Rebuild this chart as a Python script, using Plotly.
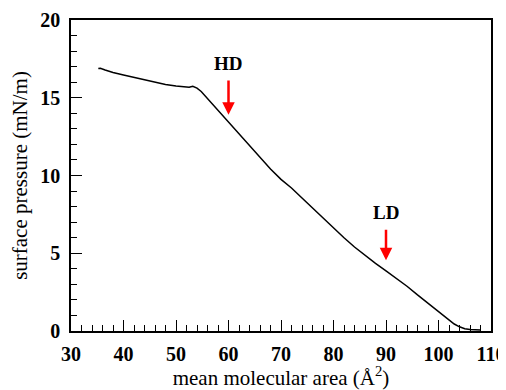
import plotly.graph_objects as go

area = [35.2, 35.6, 36.5, 38, 40, 42, 44, 46, 48, 50, 51.5, 52.5, 53.2, 54, 54.8,
        55.6, 56.5, 58, 60, 62, 64, 66, 68, 70, 72, 74, 76, 78, 80, 82, 84, 86,
        88, 90, 92, 94, 96, 98, 100, 101, 102, 103, 104, 105, 106, 107, 108]
pressure = [16.88, 16.9, 16.78, 16.62, 16.46, 16.3, 16.15, 15.98, 15.85, 15.75,
            15.72, 15.68, 15.74, 15.62, 15.4, 15.1, 14.75, 14.2, 13.45, 12.7,
            11.95, 11.15, 10.42, 9.75, 9.2, 8.55, 7.9, 7.25, 6.62, 6.0, 5.4, 4.85,
            4.35, 3.87, 3.38, 2.88, 2.32, 1.78, 1.25, 0.98, 0.7, 0.45, 0.27, 0.15,
            0.09, 0.07, 0.07]

markers = ["HD", "LD"]
marker_x = [60, 90]
marker_text_y = [17.2, 7.6]
arrow_tip = [13.9, 4.55]

xticks = [30, 40, 50, 60, 70, 80, 90, 100, 110]
yticks = [0, 5, 10, 15, 20]

serif = "Liberation Serif, Times New Roman, serif"

fig = go.Figure()
fig.add_trace(go.Scatter(x=area, y=pressure, mode="lines",
                         line=dict(color="black", width=1.5), showlegend=False))

for name, mx, ty, tip in zip(markers, marker_x, marker_text_y, arrow_tip):
    fig.add_annotation(x=mx, y=tip, ax=mx, ay=ty, axref="x", ayref="y",
                       xref="x", yref="y", text=name, showarrow=True,
                       borderpad=6,
                       font=dict(family=serif, size=19, color="black", weight="bold"),
                       arrowhead=2, arrowsize=1, arrowwidth=2.5, arrowcolor="red")

fig.update_xaxes(range=[30, 110], tickvals=xticks, ticks="inside", ticklen=11,
                 tickwidth=1.2, tickcolor="black", automargin=False,
                 minor=dict(dtick=2, ticks="inside", ticklen=6, tickwidth=1.2, tickcolor="black"),
                 showline=True, linecolor="black", linewidth=1.5, mirror=True,
                 showgrid=False, zeroline=False, ticklabelstandoff=4,
                 tickfont=dict(family=serif, size=20, color="black", weight="bold"),
                 title=dict(text="mean molecular area (Å<sup>2</sup>)",
                            font=dict(family=serif, size=21, color="black"), standoff=5))
fig.update_yaxes(range=[0, 20], tickvals=yticks, ticks="inside", ticklen=11,
                 tickwidth=1.2, tickcolor="black", automargin=False,
                 minor=dict(dtick=1, ticks="inside", ticklen=6, tickwidth=1.2, tickcolor="black"),
                 showline=True, linecolor="black", linewidth=1.5, mirror=True,
                 showgrid=False, zeroline=False, ticklabelstandoff=5,
                 tickfont=dict(family=serif, size=20, color="black", weight="bold"),
                 title=dict(text="surface pressure (mN/m)",
                            font=dict(family=serif, size=21, color="black"), standoff=8))

# page body has an 8px default margin, so the figure is sized to fit the window
fig.update_layout(width=498, height=382, margin=dict(l=63, r=15, t=12, b=59),
                  plot_bgcolor="white", paper_bgcolor="white")
fig.write_html("out.html")
